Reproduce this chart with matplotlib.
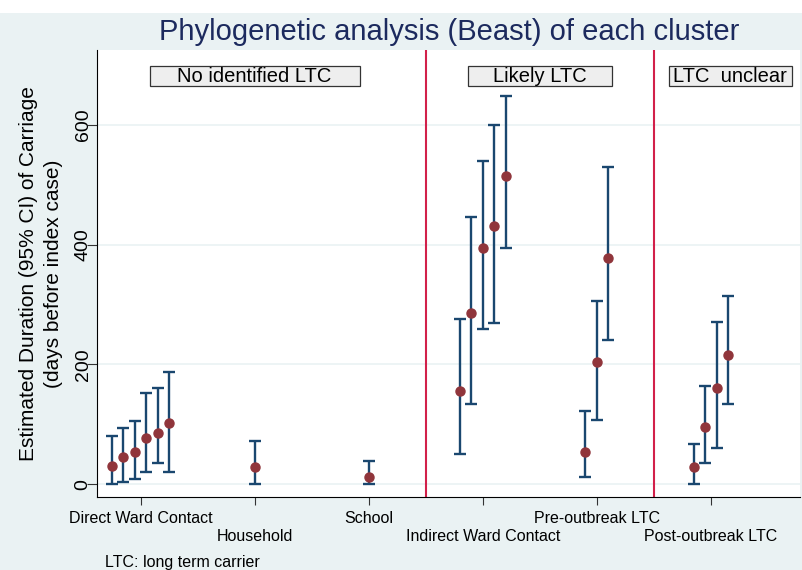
import matplotlib.pyplot as plt
from matplotlib.patches import Rectangle

# categories on the x axis
categories = ["Direct Ward Contact", "Household", "School",
              "Indirect Ward Contact", "Pre-outbreak LTC", "Post-outbreak LTC"]

# estimates per cluster (days before index case), grouped by category
estimates = [
    [31, 45, 54, 77, 85, 102],
    [29],
    [12],
    [156, 285, 394, 431, 515],
    [54, 204, 378],
    [29, 95, 161, 216],
]
lower_ci = [
    [0, 4, 9, 21, 35, 21],
    [0],
    [1],
    [50, 134, 259, 269, 394],
    [12, 108, 240],
    [1, 35, 61, 134],
]
upper_ci = [
    [81, 94, 106, 152, 160, 188],
    [72],
    [39],
    [275, 446, 539, 599, 647],
    [123, 306, 530],
    [68, 164, 270, 314],
]

group_labels = ["No identified LTC", "Likely LTC", "LTC  unclear"]
group_label_x = [2, 4.5, 6.17]
group_box_w = [1.84, 1.26, 1.08]
dividers = [3.5, 5.5]

bg = "#eaf2f3"
navy = "#1a476f"
maroon = "#90353b"
crimson = "#d2204a"
plt.rcParams['font.family'] = ['Liberation Sans', 'DejaVu Sans']

fig = plt.figure(figsize=(8.03, 5.70), dpi=100, facecolor=bg)
fig.patches.append(Rectangle((0, 0.977), 1, 0.023, transform=fig.transFigure,
                             facecolor="white", edgecolor="none", zorder=0))
ax = fig.add_axes([0.121, 0.128, 0.875, 0.784])
ax.set_facecolor("white")

for i, (est, lo, hi) in enumerate(zip(estimates, lower_ci, upper_ci)):
    n = len(est)
    for j in range(n):
        xpos = (i + 1) + (j - (n - 1) / 2) * 0.1
        ax.errorbar(xpos, est[j], yerr=[[est[j] - lo[j]], [hi[j] - est[j]]],
                    fmt="none", ecolor=navy, elinewidth=1.7, capsize=4,
                    capthick=1.7, zorder=3)
        ax.plot(xpos, est[j], "o", color=maroon, markersize=6.5, zorder=4)

for d in dividers:
    ax.axvline(d, color=crimson, linewidth=1.5, zorder=2)

for lab, xp, w in zip(group_labels, group_label_x, group_box_w):
    ax.add_patch(Rectangle((xp - w / 2, 664), w, 33, facecolor="#eeeeee",
                           edgecolor="#333333", linewidth=0.9, zorder=5))
    ax.text(xp, 680.5, lab, ha="center", va="center", fontsize=14.5, zorder=6)

ax.set_xlim(0.62, 6.78)
ax.set_ylim(-21, 724)
ax.set_yticks([0, 200, 400, 600])
ax.set_yticklabels(["0", "200", "400", "600"], rotation=90, va="center",
                   fontsize=14)
ax.grid(axis="y", color=bg, linewidth=1.2, zorder=1)
ax.set_xticks(range(1, len(categories) + 1))
ax.set_xticklabels(categories, fontsize=11.5)
for k, lab in enumerate(ax.get_xticklabels()):
    if k % 2 == 1:
        lab.set_y(-0.04)
ax.tick_params(axis="both", length=6, width=0.8, color="#333333")
ax.tick_params(axis="x", pad=4)
ax.tick_params(axis="y", length=7, pad=-3)
for s in ["top", "right"]:
    ax.spines[s].set_visible(False)

ax.set_ylabel("Estimated Duration (95% CI) of Carriage\n(days before index case)",
              fontsize=15, linespacing=1.45, labelpad=8)
fig.suptitle("Phylogenetic analysis (Beast) of each cluster", x=0.56, y=0.968,
             fontsize=21, color="#1c2a5e", va="top")
fig.text(0.131, 0.006, "LTC: long term carrier", fontsize=11.5)

fig.savefig("out.png", dpi=100, facecolor=bg)
